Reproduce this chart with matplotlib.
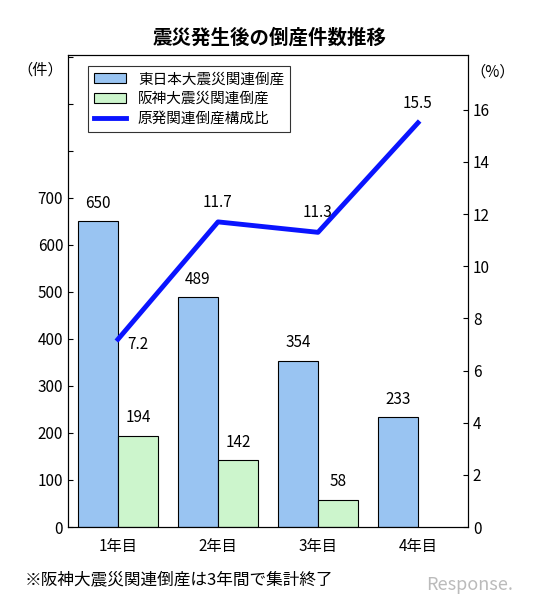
import matplotlib
matplotlib.use("Agg")
import matplotlib.pyplot as plt
import numpy as np

plt.rcParams['font.family'] = ['Noto Sans CJK JP', 'DejaVu Sans']

cats = ["1年目", "2年目", "3年目", "4年目"]
east = [650, 489, 354, 233]
hanshin = [194, 142, 58]
ratio = [7.2, 11.7, 11.3, 15.5]

fig = plt.figure(figsize=(5.48, 6.05), dpi=100)
ax = fig.add_axes([68/548, 1-527/605, 400/548, 472/605])
x = np.arange(4)
ax.bar(x-0.2, east, 0.4, color='#99c4f2', edgecolor='black', linewidth=0.8, label='東日本大震災関連倒産', zorder=2)
ax.bar(x[:3]+0.2, hanshin, 0.4, color='#ccf5cc', edgecolor='black', linewidth=0.8, label='阪神大震災関連倒産', zorder=2)
for i, v in enumerate(east):
    ax.text(i-0.2, v+20, str(v), ha='center', va='bottom', fontsize=11)
for i, v in enumerate(hanshin):
    ax.text(i+0.2, v+20, str(v), ha='center', va='bottom', fontsize=11)
ax.set_xlim(-0.5, 3.5)
ax.set_ylim(0, 1004)
ax.set_yticks(range(0, 1001, 100))
ax.set_yticklabels([str(v) if v <= 700 else '' for v in range(0, 1001, 100)], fontsize=11)
ax.set_xticks(x)
ax.set_xticklabels(cats, fontsize=11)
ax.tick_params(axis='x', length=0, pad=8)
ax.tick_params(axis='y', direction='in')

ax2 = ax.twinx()
ax2.plot(x, ratio, color='#0a14ff', linewidth=3.5, label='原発関連倒産構成比', zorder=3)
offs = [(0.2, -0.2), (0, 0.75), (0, 0.75), (0, 0.75)]
for i, v in enumerate(ratio):
    ax2.text(i+offs[i][0], v+offs[i][1], f"{v}", ha='center', va='center', fontsize=11)
ax2.set_ylim(0, 18.1)
ax2.set_yticks(range(0, 17, 2))
ax2.tick_params(axis='y', direction='in', labelsize=11)

h1, l1 = ax.get_legend_handles_labels()
h2, l2 = ax2.get_legend_handles_labels()
leg = ax2.legend(h1+h2, l1+l2, loc='upper left', bbox_to_anchor=(0.04, 0.985), fontsize=10.5,
          frameon=True, fancybox=False, edgecolor='black', handlelength=2.2,
          borderaxespad=0.3, labelspacing=0.4)
leg.get_frame().set_linewidth(0.8)

fig.text(270/548, 1-38/605, "震災発生後の倒産件数推移", ha='center', va='center', fontsize=14, fontweight='bold')
fig.text(40/548, 1-70/605, "（件）", ha='center', va='center', fontsize=11)
fig.text(493/548, 1-72/605, "（%）", ha='center', va='center', fontsize=11)
fig.text(25/548, 1-580/605, "※阪神大震災関連倒産は3年間で集計終了", ha='left', va='center', fontsize=12)
fig.text(470/548, 1-585/605, "Response.", ha='center', va='center', fontsize=13, color='#bbbbbb', style='italic')
fig.savefig("out.png", dpi=100)
